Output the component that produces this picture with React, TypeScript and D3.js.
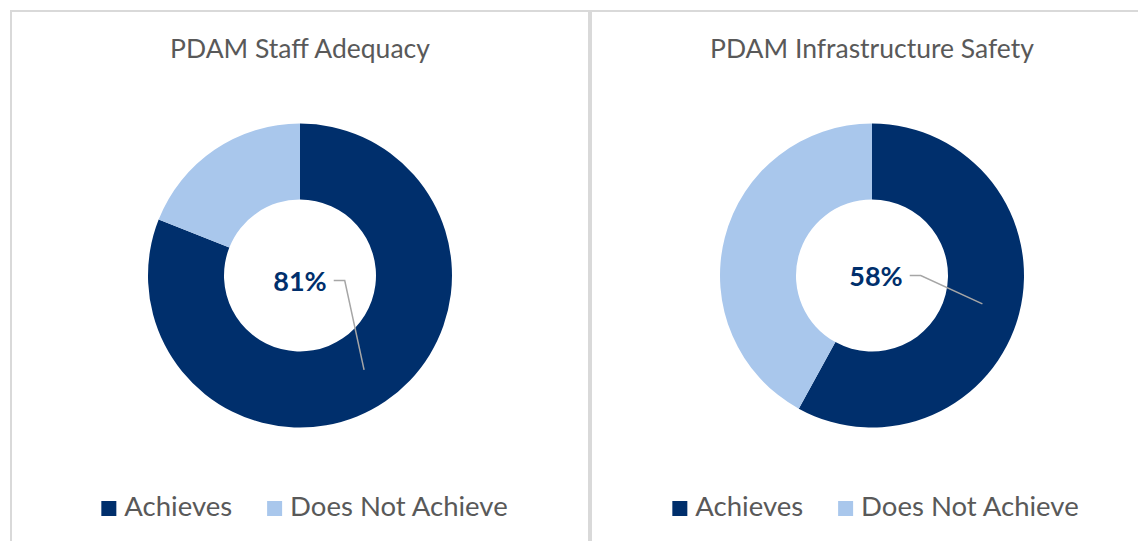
import React, { useEffect, useRef } from "react";
import * as d3 from "d3";

const titles = ["PDAM Staff Adequacy", "PDAM Infrastructure Safety"];
const categories = ["Achieves", "Does Not Achieve"];
const achievesPct = [81, 58];
const notAchievesPct = [19, 42];
const colors = ["#002F6C", "#A9C7EC"];

const W = 1138;
const H = 541;
const FONT = "Lato, 'Open Sans', sans-serif";

export default function App() {
  const ref = useRef<SVGSVGElement | null>(null);

  useEffect(() => {
    const svg = d3.select(ref.current);
    svg.selectAll("*").remove();

    svg.append("rect").attr("width", W).attr("height", H).attr("fill", "#ffffff");

    // panel borders
    const border = "#d9d9d9";
    svg.append("line").attr("x1", 10).attr("x2", W).attr("y1", 11).attr("y2", 11)
      .attr("stroke", border).attr("stroke-width", 2);
    svg.append("line").attr("x1", 11).attr("x2", 11).attr("y1", 10).attr("y2", H)
      .attr("stroke", border).attr("stroke-width", 2);
    svg.append("line").attr("x1", 590).attr("x2", 590).attr("y1", 10).attr("y2", H)
      .attr("stroke", border).attr("stroke-width", 4);

    const panels = [
      { cx: 300, cy: 275.5, legendCx: 304.5, labelDx: 0, labelDy: 5 },
      { cx: 872, cy: 275.5, legendCx: 875.5, labelDx: 4, labelDy: 0 },
    ];

    const pie = d3.pie<number>().sort(null).value((d) => d);
    const arc = d3.arc<d3.PieArcDatum<number>>().innerRadius(76).outerRadius(152);
    const color = d3.scaleOrdinal<string, string>().domain(categories).range(colors);

    panels.forEach((p, i) => {
      const g = svg.append("g");
      g.append("text")
        .attr("x", p.cx)
        .attr("y", 58)
        .attr("text-anchor", "middle")
        .attr("font-family", FONT)
        .attr("font-size", 26.5)
        .attr("fill", "#595959")
        .text(titles[i]);

      const data = pie([achievesPct[i], notAchievesPct[i]]);
      const dg = g.append("g").attr("transform", `translate(${p.cx},${p.cy})`);
      dg.selectAll("path")
        .data(data)
        .join("path")
        .attr("d", arc as any)
        .attr("fill", (_d, j) => color(categories[j]));

      // label
      const c = arc.centroid(data[0]);
      const lx = p.labelDx;
      const ly = p.labelDy;
      const label = dg.append("text")
        .attr("x", lx)
        .attr("y", ly + 10)
        .attr("text-anchor", "middle")
        .attr("font-family", FONT)
        .attr("font-weight", 700)
        .attr("font-size", 27)
        .attr("fill", "#002F6C")
        .text(`${achievesPct[i]}%`);
      const tw = (label.node() as SVGTextElement).getComputedTextLength();
      const sx = lx + tw / 2 + 7;
      dg.append("polyline")
        .attr("points", `${sx},${ly} ${sx + 11},${ly} ${c[0]},${c[1]}`)
        .attr("fill", "none")
        .attr("stroke", "#a6a6a6")
        .attr("stroke-width", 1.5);

      // legend
      const lg = g.append("g");
      let x = 0;
      const gapSq = 8;
      const gapItem = 35;
      categories.forEach((cat, j) => {
        const it = lg.append("g").attr("transform", `translate(${x},0)`);
        it.append("rect").attr("x", 0).attr("y", 501).attr("width", 15).attr("height", 15)
          .attr("fill", colors[j]);
        const t = it.append("text")
          .attr("x", 15 + gapSq)
          .attr("y", 516)
          .attr("font-family", FONT)
          .attr("font-size", 27.5)
          .attr("fill", "#595959")
          .text(cat);
        const w = 15 + gapSq + (t.node() as SVGTextElement).getComputedTextLength();
        x += w + gapItem;
      });
      const total = x - gapItem;
      lg.attr("transform", `translate(${p.legendCx - total / 2},0)`);
    });
  }, []);

  return (
    <svg
      ref={ref}
      width={W}
      height={H}
      style={{ position: "absolute", left: 0, top: 0, display: "block" }}
    />
  );
}
